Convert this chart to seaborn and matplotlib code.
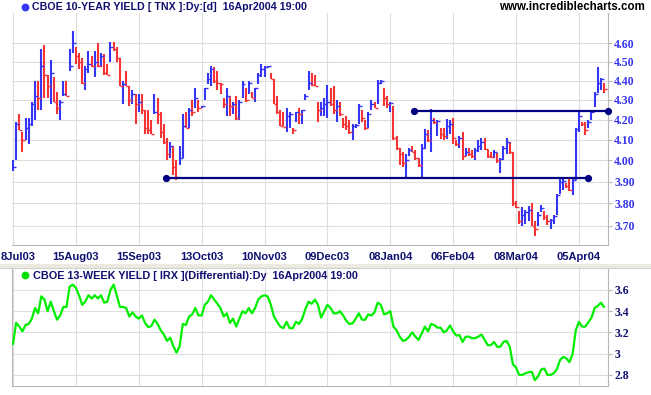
import numpy as np
import matplotlib
matplotlib.use("Agg")
import matplotlib.pyplot as plt
from matplotlib.ticker import FixedLocator, NullLocator, FixedFormatter
from matplotlib.lines import Line2D
from matplotlib.patches import Rectangle
from matplotlib.transforms import ScaledTranslation
import seaborn as sns

# ---------------- data ----------------
# first label is shown cut to "8Jul03" at the left edge in the reference
tick_labels = ["8Jul03", "15Aug03", "15Sep03", "13Oct03", "10Nov03",
               "09Dec03", "08Jan04", "06Feb04", "08Mar04", "05Apr04"]
tick_bars = [0, 20, 40, 60, 80, 100, 120, 140, 160, 180]

tnx_high = [4.00, 4.19, 4.23, 4.14, 4.21, 4.21, 4.29, 4.40, 4.40, 4.57,
            4.59, 4.43, 4.51, 4.42, 4.34, 4.30, 4.40, 4.40, 4.57, 4.67,
            4.58, 4.55, 4.52, 4.48, 4.56, 4.53, 4.56, 4.60, 4.55, 4.54,
            4.49, 4.61, 4.61, 4.58, 4.52, 4.40, 4.45, 4.37, 4.35, 4.33,
            4.33, 4.33, 4.25, 4.25, 4.20, 4.33, 4.31, 4.24, 4.18, 4.11,
            4.09, 4.07, 4.00, 4.07, 4.23, 4.24, 4.26, 4.30, 4.36, 4.30,
            4.27, 4.36, 4.44, 4.48, 4.47, 4.45, 4.39, 4.31, 4.36, 4.32,
            4.29, 4.32, 4.30, 4.40, 4.36, 4.40, 4.34, 4.36, 4.44, 4.49,
            4.48, 4.48, 4.44, 4.41, 4.32, 4.25, 4.24, 4.26, 4.24, 4.16,
            4.24, 4.26, 4.25, 4.33, 4.45, 4.44, 4.43, 4.29, 4.29, 4.31,
            4.375, 4.36, 4.37, 4.30, 4.29, 4.21, 4.22, 4.20, 4.18, 4.18,
            4.28, 4.25, 4.20, 4.24, 4.30, 4.29, 4.405, 4.405, 4.36, 4.32,
            4.29, 4.27, 4.12, 4.06, 4.04, 4.03, 4.06, 4.07, 4.05, 4.01,
            4.08, 4.155, 4.15, 4.255, 4.21, 4.20, 4.16, 4.16, 4.205, 4.20,
            4.21, 4.10, 4.12, 4.14, 4.06, 4.06, 4.05, 4.06, 4.10, 4.11,
            4.11, 4.05, 4.04, 4.05, 4.035, 4.01, 4.07, 4.11, 4.09, 4.04,
            3.81, 3.765, 3.785, 3.77, 3.79, 3.80, 3.72, 3.76, 3.795, 3.765,
            3.75, 3.73, 3.75, 3.845, 3.915, 3.915, 3.895, 3.915, 3.915, 4.16,
            4.237, 4.19, 4.19, 4.20, 4.25, 4.34, 4.47, 4.415, 4.385]

tnx_low = [3.95, 4.00, 4.15, 4.04, 4.10, 4.08, 4.17, 4.20, 4.25, 4.25,
           4.31, 4.31, 4.28, 4.29, 4.23, 4.20, 4.32, 4.32, 4.45, 4.55,
           4.49, 4.46, 4.38, 4.35, 4.44, 4.47, 4.42, 4.47, 4.47, 4.43,
           4.43, 4.50, 4.56, 4.50, 4.37, 4.28, 4.37, 4.27, 4.28, 4.18,
           4.24, 4.23, 4.13, 4.13, 4.13, 4.23, 4.18, 4.11, 4.08, 4.00,
           4.01, 3.93, 3.91, 3.98, 4.01, 4.16, 4.16, 4.22, 4.26, 4.24,
           4.26, 4.30, 4.38, 4.37, 4.39, 4.35, 4.33, 4.26, 4.22, 4.22,
           4.23, 4.20, 4.20, 4.31, 4.29, 4.33, 4.31, 4.29, 4.38, 4.42,
           4.42, 4.465, 4.41, 4.28, 4.23, 4.17, 4.17, 4.14, 4.16, 4.13,
           4.19, 4.18, 4.18, 4.30, 4.35, 4.37, 4.37, 4.19, 4.22, 4.22,
           4.21, 4.27, 4.23, 4.19, 4.22, 4.16, 4.15, 4.13, 4.10, 4.16,
           4.18, 4.19, 4.15, 4.16, 4.25, 4.26, 4.28, 4.38, 4.27, 4.26,
           4.24, 4.10, 4.05, 3.98, 3.97, 3.915, 4.02, 4.04, 4.00, 3.97,
           3.915, 4.055, 4.09, 4.04, 4.18, 4.12, 4.105, 4.10, 4.105, 4.13,
           4.08, 4.07, 4.06, 4.00, 4.02, 4.02, 4.01, 4.00, 4.04, 4.05,
           4.05, 4.01, 4.01, 4.01, 3.99, 3.94, 4.00, 4.03, 4.03, 3.79,
           3.78, 3.71, 3.70, 3.71, 3.72, 3.70, 3.655, 3.70, 3.76, 3.725,
           3.705, 3.685, 3.71, 3.75, 3.845, 3.86, 3.87, 3.855, 3.84, 3.91,
           4.14, 4.167, 4.125, 4.16, 4.20, 4.265, 4.335, 4.35, 4.335]

tnx_close = [3.97, 4.18, 4.15, 4.10, 4.16, 4.18, 4.28, 4.32, 4.31, 4.48,
             4.43, 4.37, 4.44, 4.29, 4.26, 4.29, 4.33, 4.32, 4.48, 4.60,
             4.53, 4.50, 4.39, 4.46, 4.49, 4.48, 4.50, 4.48, 4.53, 4.44,
             4.43, 4.58, 4.57, 4.52, 4.37, 4.38, 4.37, 4.30, 4.33, 4.28,
             4.29, 4.25, 4.16, 4.15, 4.13, 4.24, 4.23, 4.14, 4.09, 4.03,
             4.07, 3.97, 3.92, 4.01, 4.17, 4.16, 4.25, 4.24, 4.31, 4.26,
             4.27, 4.36, 4.41, 4.46, 4.40, 4.39, 4.38, 4.28, 4.32, 4.27,
             4.28, 4.21, 4.29, 4.38, 4.30, 4.39, 4.31, 4.36, 4.43, 4.46,
             4.47, 4.475, 4.41, 4.28, 4.24, 4.17, 4.165, 4.22, 4.23, 4.15,
             4.24, 4.23, 4.25, 4.32, 4.39, 4.375, 4.37, 4.25, 4.26, 4.28,
             4.29, 4.28, 4.25, 4.27, 4.23, 4.18, 4.17, 4.14, 4.17, 4.175,
             4.27, 4.21, 4.16, 4.23, 4.28, 4.26, 4.39, 4.40, 4.31, 4.28,
             4.285, 4.11, 4.06, 4.03, 3.99, 4.00, 4.05, 4.04, 4.01, 3.98,
             4.06, 4.13, 4.10, 4.20, 4.19, 4.195, 4.13, 4.12, 4.17, 4.18,
             4.11, 4.08, 4.11, 4.02, 4.04, 4.03, 4.02, 4.05, 4.07, 4.09,
             4.055, 4.02, 4.015, 4.04, 4.00, 4.005, 4.06, 4.09, 4.04, 3.80,
             3.785, 3.72, 3.75, 3.76, 3.77, 3.70, 3.685, 3.75, 3.78, 3.74,
             3.72, 3.725, 3.745, 3.84, 3.90, 3.905, 3.88, 3.86, 3.91, 4.155,
             4.22, 4.18, 4.15, 4.19, 4.24, 4.33, 4.39, 4.41, 4.355]

irx = [3.09, 3.29, 3.255, 3.21, 3.27, 3.28, 3.33, 3.43, 3.38, 3.54,
       3.51, 3.40, 3.49, 3.40, 3.32, 3.36, 3.44, 3.44, 3.63, 3.65,
       3.62, 3.55, 3.46, 3.49, 3.55, 3.52, 3.55, 3.52, 3.55, 3.48,
       3.49, 3.60, 3.65, 3.55, 3.44, 3.44, 3.43, 3.35, 3.39, 3.35,
       3.33, 3.36, 3.29, 3.25, 3.26, 3.32, 3.28, 3.22, 3.18, 3.12,
       3.15, 3.07, 3.01, 3.07, 3.28, 3.27, 3.35, 3.37, 3.43, 3.36,
       3.36, 3.46, 3.49, 3.55, 3.51, 3.47, 3.43, 3.35, 3.38, 3.29,
       3.33, 3.255, 3.33, 3.40, 3.38, 3.43, 3.38, 3.43, 3.51, 3.54,
       3.55, 3.54, 3.46, 3.35, 3.30, 3.255, 3.24, 3.30, 3.24, 3.24,
       3.30, 3.28, 3.33, 3.42, 3.49, 3.47, 3.51, 3.46, 3.34, 3.40,
       3.46, 3.43, 3.38, 3.38, 3.40, 3.36, 3.31, 3.28, 3.285, 3.33,
       3.38, 3.32, 3.32, 3.37, 3.36, 3.39, 3.48, 3.46, 3.37, 3.38,
       3.40, 3.255, 3.22, 3.16, 3.12, 3.13, 3.16, 3.20, 3.16, 3.13,
       3.19, 3.255, 3.21, 3.28, 3.27, 3.245, 3.245, 3.20, 3.22, 3.265,
       3.21, 3.17, 3.175, 3.11, 3.16, 3.16, 3.145, 3.145, 3.16, 3.18,
       3.13, 3.08, 3.08, 3.11, 3.065, 3.065, 3.11, 3.12, 3.065, 2.90,
       2.87, 2.80, 2.80, 2.815, 2.825, 2.83, 2.75, 2.785, 2.85, 2.86,
       2.80, 2.80, 2.815, 2.855, 2.94, 2.97, 2.955, 2.92, 3.00, 3.22,
       3.30, 3.255, 3.255, 3.295, 3.34, 3.43, 3.45, 3.48, 3.44]

# hand-drawn trend lines: (start bar, end bar, level)
support_line = (48.7, 183.0, 3.915)
resistance_line = (127.7, 189.2, 4.245)

tnx_ticks = [3.70, 3.80, 3.90, 4.00, 4.10, 4.20, 4.30, 4.40, 4.50, 4.60]
irx_ticks = [2.8, 3.0, 3.2, 3.4, 3.6]
irx_tick_labels = ["2.8", "3", "3.2", "3.4", "3.6"]

# ---------------- style ----------------
sns.set_style("white")
plt.rcParams['font.family'] = ['Liberation Sans', 'DejaVu Sans']

W, H = 651, 395
fig = plt.figure(figsize=(W / 100, H / 100), dpi=100)
fig.patch.set_facecolor("white")

UP = "#3535F5"
DOWN = "#F53535"
NAVY = "#000080"
GRID = "#DDDDDD"
SPINE = "#B8B8B8"
LABEL_NAVY = "#101070"

left_px, right_px = 12, 608
ax1 = fig.add_axes([left_px / W, 1 - 245 / H, (right_px - left_px) / W, (245 - 13) / H])
ax2 = fig.add_axes([left_px / W, 1 - 385.5 / H, (right_px - left_px) / W, (385.5 - 268) / H])

idx = np.arange(len(tnx_close))
hi = np.array(tnx_high)
lo = np.array(tnx_low)
cl = np.array(tnx_close)
prev = np.concatenate([[cl[0] - 0.01], cl[:-1]])
colors = [UP if c >= p else DOWN for c, p in zip(cl, prev)]

px_per_bar = 3.144
xlo = (left_px - 13) / px_per_bar
xhi = (right_px - 13) / px_per_bar

# ---- main panel (OHLC bars) ----
ax1.set_yscale("log")
ax1.vlines(idx, lo, hi, colors=colors, lw=1.5, zorder=3)
ax1.hlines(cl, idx, idx + 0.95, colors=colors, lw=1.0, zorder=3)

for (x0, x1, lvl) in (support_line, resistance_line):
    ax1.plot([x0, x1], [lvl, lvl], color=NAVY, lw=1.6, zorder=4,
             marker="o", ms=4.2, clip_on=False)

ax1.set_xlim(xlo, xhi)
ax1.set_ylim(3.616, 4.77)
ax1.yaxis.set_major_locator(FixedLocator(tnx_ticks))
ax1.yaxis.set_major_formatter(FixedFormatter([f"{t:.2f}" for t in tnx_ticks]))
ax1.yaxis.set_minor_locator(NullLocator())
ax1.yaxis.tick_right()
ax1.set_xticks(tick_bars)
ax1.set_xticklabels(tick_labels)
ax1.grid(True, color=GRID, lw=0.8, zorder=0)
for s in ("top", "left"):
    ax1.spines[s].set_visible(False)
for s in ("right", "bottom"):
    ax1.spines[s].set_color(SPINE)
    ax1.spines[s].set_linewidth(0.8)
ax1.tick_params(axis="x", length=3, color=SPINE, pad=2, labelsize=8,
                labelcolor=LABEL_NAVY)
ax1.tick_params(axis="y", length=3, color=SPINE, pad=1.5)
xtl = ax1.get_xticklabels()
for t in xtl:
    t.set_fontweight("bold")
# the first label sits flush with the left edge
xtl[0].set_ha("left")
xtl[0].set_transform(xtl[0].get_transform() + ScaledTranslation(-12.5 / 100, 0, fig.dpi_scale_trans))
for t in ax1.get_yticklabels():
    t.set_fontfamily(["Liberation Serif", "DejaVu Serif"])
    t.set_fontweight("bold")
    t.set_fontsize(8.5)
    t.set_color("#3434F0")

# ---- lower panel (IRX line) ----
sns.lineplot(x=idx, y=irx, ax=ax2, color="#00EE00", lw=1.6, zorder=3)
ax2.set_xlim(xlo, xhi)
ax2.set_ylim(2.70, 3.807)
ax2.yaxis.set_major_locator(FixedLocator(irx_ticks))
ax2.yaxis.set_major_formatter(FixedFormatter(irx_tick_labels))
ax2.yaxis.tick_right()
ax2.set_xticks(tick_bars)
ax2.set_xticklabels([])
ax2.grid(True, color=GRID, lw=0.8, zorder=0)
ax2.spines["top"].set_visible(False)
for s in ("right", "bottom", "left"):
    ax2.spines[s].set_color(SPINE)
    ax2.spines[s].set_linewidth(0.8)
ax2.tick_params(axis="x", length=3, color=SPINE)
ax2.tick_params(axis="y", length=3, color=SPINE, pad=1.5)
for t in ax2.get_yticklabels():
    t.set_fontfamily(["Liberation Serif", "DejaVu Serif"])
    t.set_fontweight("bold")
    t.set_fontsize(8.5)
    t.set_color(LABEL_NAVY)

# separator band between panes
fig.add_artist(Rectangle((0, 1 - 268 / H), 1, 4 / H, transform=fig.transFigure,
                         facecolor="#ECEAE0", edgecolor="none"))
fig.add_artist(Line2D([0, 1], [1 - 268 / H, 1 - 268 / H], transform=fig.transFigure,
                      color="#CFCFCF", lw=0.8))

# ---- titles ----
fig.add_artist(Line2D([25 / W], [1 - 6.5 / H], transform=fig.transFigure,
                      marker="o", ms=4.6, color=UP, lw=0))
fig.text(32 / W, 1 - 7 / H, "CBOE 10-YEAR YIELD [ TNX ]:Dy:[d]  16Apr2004 19:00",
         ha="left", va="center", fontsize=7.7, fontweight="bold", color=LABEL_NAVY)
fig.text(645 / W, 1 - 7.5 / H, "www.incrediblecharts.com",
         ha="right", va="center", fontsize=8.3, fontweight="bold", color="black")
fig.add_artist(Line2D([25.5 / W], [1 - 275 / H], transform=fig.transFigure,
                      marker="o", ms=4.6, color="#00DD00", lw=0))
fig.text(33 / W, 1 - 276 / H, "CBOE 13-WEEK YIELD [ IRX ](Differential):Dy  16Apr2004 19:00",
         ha="left", va="center", fontsize=7.8, fontweight="bold", color=LABEL_NAVY)

fig.savefig("out.png", dpi=100, facecolor="white")
